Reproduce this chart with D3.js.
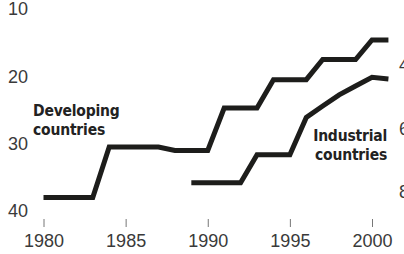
<!DOCTYPE html>
<html>
<head>
<meta charset="utf-8">
<script src="https://cdn.jsdelivr.net/npm/d3@7"></script>
<style>
  body { margin: 0; background: #fff; }
  svg { display: block; font-family: "Liberation Sans Narrow", "Arial Narrow", "DejaVu Sans Condensed", sans-serif; }
  .axis text { fill: #3a3a3a; font-size: 18px; }
  .axis .domain { display: none; }
  .x.axis line { stroke: #777; stroke-width: 1; }
  .label { fill: #222; font-size: 15.5px; font-weight: bold; letter-spacing: -0.2px; }
</style>
</head>
<body>
<script>
// values
var years = [1980, 1981, 1982, 1983, 1984, 1985, 1986, 1987, 1988, 1989, 1990,
             1991, 1992, 1993, 1994, 1995, 1996, 1997, 1998, 1999, 2000, 2001];
var developing = [38, 38, 38, 38, 30.5, 30.5, 30.5, 30.5, 31, 31, 31,
                  24.7, 24.7, 24.7, 20.5, 20.5, 20.5, 17.5, 17.5, 17.5, 14.6, 14.6];

var industrialYears = [1989, 1990, 1991, 1992, 1993, 1994, 1995, 1996, 1997, 1998, 1999, 2000, 2001];
var industrial = [77.1, 77.1, 77.1, 77.1, 68.3, 68.3, 68.3, 56.5, 52.9, 49.4, 46.6, 43.9, 44.4];

var yearTicks = [1980, 1985, 1990, 1995, 2000];
var leftTicks = [10, 20, 30, 40];
var rightTicks = [40, 60, 80];

var width = 404, height = 254;

var svg = d3.select("body").append("svg")
            .attr("width", width)
            .attr("height", height);

var x = d3.scaleLinear().domain([1980, 2000]).range([43.5, 372]);
var yLeft = d3.scaleLinear().domain([10, 40]).range([9, 211]);
var yRight = d3.scaleLinear().domain([40, 80]).range([65, 192]);

// axes
svg.append("g")
   .attr("class", "x axis")
   .attr("transform", "translate(0,219)")
   .call(d3.axisBottom(x).tickValues(yearTicks).tickFormat(d3.format("d"))
           .tickSize(8).tickPadding(7));

svg.append("g")
   .attr("class", "y axis")
   .attr("transform", "translate(28,0)")
   .call(d3.axisLeft(yLeft).tickValues(leftTicks).tickSize(0).tickPadding(0));

// right axis runs off the edge of the picture, as in the original
svg.append("g")
   .attr("class", "y axis")
   .attr("transform", "translate(399,0)")
   .call(d3.axisRight(yRight).tickValues(rightTicks).tickSize(0).tickPadding(0));

// lines
var devLine = d3.line()
                .x(function(d, i) { return x(years[i]); })
                .y(function(d) { return yLeft(d); });

var indLine = d3.line()
                .x(function(d, i) { return x(industrialYears[i]); })
                .y(function(d) { return yRight(d); });

svg.append("path")
   .datum(developing)
   .attr("d", devLine)
   .attr("fill", "none")
   .attr("stroke", "#1d1d1b")
   .attr("stroke-width", 5)
   .attr("stroke-linejoin", "miter");

svg.append("path")
   .datum(industrial)
   .attr("d", indLine)
   .attr("fill", "none")
   .attr("stroke", "#1d1d1b")
   .attr("stroke-width", 5)
   .attr("stroke-linejoin", "miter");

// series labels
var dev = svg.append("text").attr("class", "label").attr("x", 33).attr("y", 116);
dev.append("tspan").attr("x", 33).text("Developing");
dev.append("tspan").attr("x", 33).attr("dy", 19).text("countries");

var ind = svg.append("text").attr("class", "label")
             .attr("text-anchor", "end").attr("x", 387).attr("y", 140.5);
ind.append("tspan").attr("x", 387).text("Industrial");
ind.append("tspan").attr("x", 387).attr("dy", 19).text("countries");
</script>
</body>
</html>
